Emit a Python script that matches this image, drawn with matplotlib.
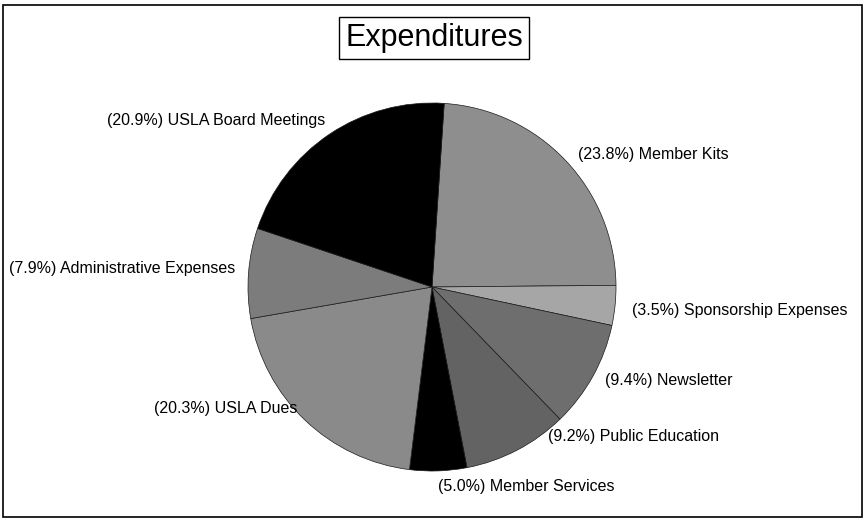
"""Expenditures pie chart, greyscale like the scanned spreadsheet chart."""
import matplotlib
matplotlib.use('Agg')
import matplotlib.pyplot as plt
from matplotlib.patches import Rectangle

plt.rcParams['font.family'] = ['Liberation Sans', 'DejaVu Sans']

categories = ['Member Kits', 'Sponsorship Expenses', 'Newsletter', 'Public Education',
              'Member Services', 'USLA Dues', 'Administrative Expenses',
              'USLA Board Meetings']
shares = [23.8, 3.5, 9.4, 9.2, 5.0, 20.3, 7.9, 20.9]

W, H = 865, 521
greys = ['#8e8e8e', '#a6a6a6', '#6e6e6e', '#636363',
         '#000000', '#8a8a8a', '#7c7c7c', '#000000']
# label anchors in image pixels (x, y from top) and alignment
label_pos = [(578, 154, 'left'), (632, 310, 'left'), (605, 380, 'left'),
             (548, 437, 'left'), (438, 487, 'left'), (297, 408, 'right'),
             (235, 268, 'right'), (325, 120, 'right')]

fig = plt.figure(figsize=(W / 100, H / 100), dpi=100)
ax = fig.add_axes([0, 0, 1, 1])

ax.pie(shares, colors=greys, startangle=86.2, counterclock=False,
       center=(432, H - 287), radius=184,
       wedgeprops={'linewidth': 0.5, 'edgecolor': '#1a1a1a'})
ax.set_xlim(0, W)
ax.set_ylim(0, H)
ax.set_aspect('auto')
ax.axis('off')

for name, val, (x, y, ha) in zip(categories, shares, label_pos):
    ax.text(x, H - y, f'({val:.1f}%) {name}', ha=ha, va='center',
            fontsize=11.5, color='black')

ax.text(434, H - 38, 'Expenditures', ha='center', va='center', fontsize=22,
        bbox={'boxstyle': 'square,pad=0.2', 'facecolor': 'white',
              'edgecolor': 'black', 'linewidth': 1.0})

# outer chart frame
ax.add_patch(Rectangle((3, H - 517), 859, 512, fill=False,
                       edgecolor='black', linewidth=1.2))

fig.savefig('out.png', dpi=100)
